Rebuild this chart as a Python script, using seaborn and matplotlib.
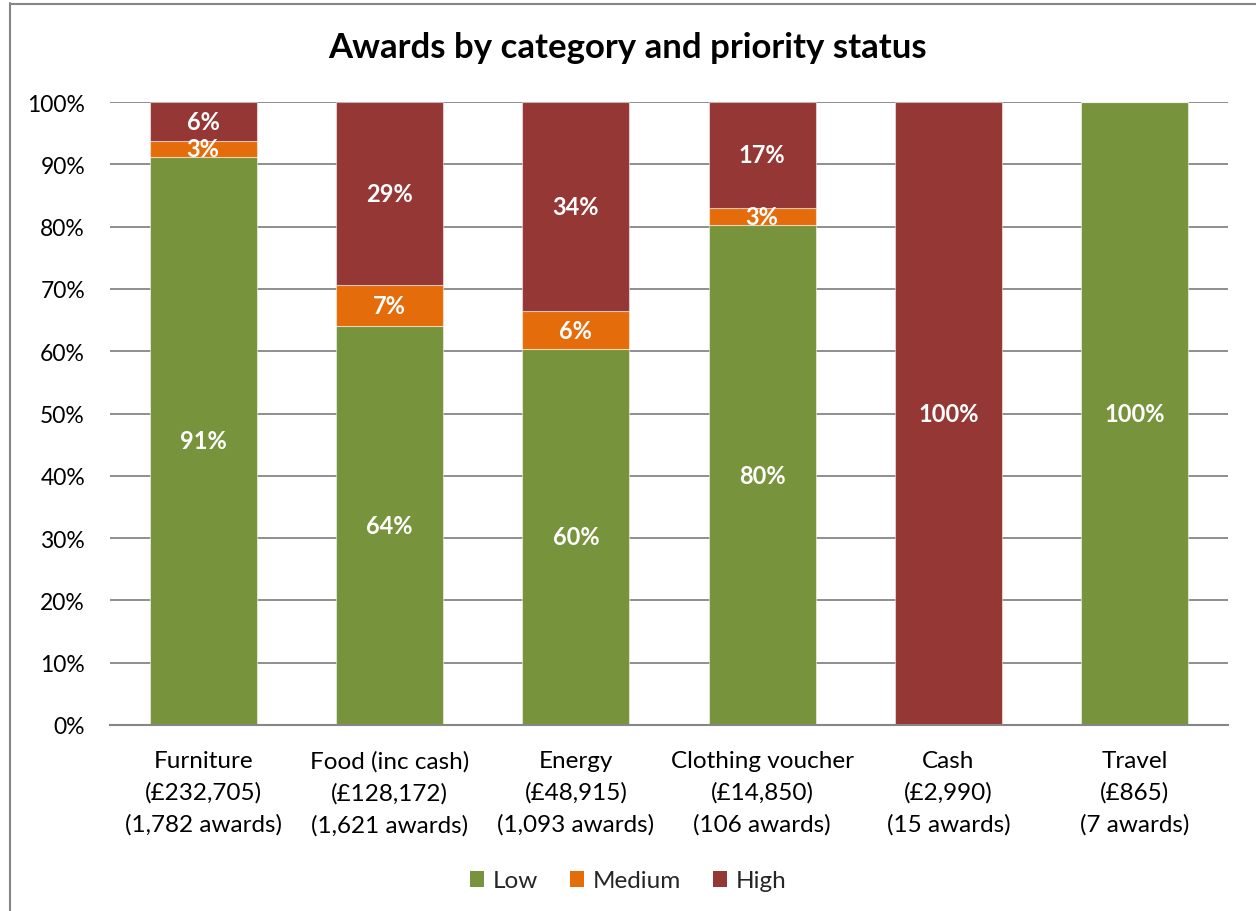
import matplotlib
matplotlib.use("Agg")
import matplotlib.pyplot as plt
import seaborn as sns
import numpy as np
import pandas as pd
from matplotlib.lines import Line2D
from matplotlib.patches import Patch

categories = ["Furniture\n(£232,705)\n(1,782 awards)",
              "Food (inc cash)\n(£128,172)\n(1,621 awards)",
              "Energy\n(£48,915)\n(1,093 awards)",
              "Clothing voucher\n(£14,850)\n(106 awards)",
              "Cash\n(£2,990)\n(15 awards)",
              "Travel\n(£865)\n(7 awards)"]
low = [91.2, 64.0, 60.4, 80.2, 0.0, 100.0]
medium = [2.6, 6.6, 6.0, 2.8, 0.0, 0.0]
high = [6.2, 29.4, 33.6, 17.0, 100.0, 0.0]
series_names = ["Low", "Medium", "High"]
colors = ["#77933C", "#E46C0A", "#953735"]
yticks = [0, 10, 20, 30, 40, 50, 60, 70, 80, 90, 100]

sns.set_theme(style="white")
plt.rcParams['font.family'] = ['Lato', 'DejaVu Sans']

fig = plt.figure(figsize=(12.56, 9.12), dpi=100)
ax = fig.add_axes([110/1256, 1-726/912, (1228-110)/1256, (726-103)/912])

df = pd.DataFrame({"cat": categories, "Low": low, "Medium": medium, "High": high})
bottom = np.zeros(len(categories))
for name, col in zip(series_names, colors):
    vals = df[name].values
    sns.barplot(x=df["cat"], y=vals, bottom=bottom, color=col, width=0.575,
                edgecolor=(1, 1, 1, 0.5), linewidth=0.8, ax=ax, zorder=3,
                saturation=1)
    for i, v in enumerate(vals):
        if v > 0:
            ax.text(i, bottom[i] + v / 2, f"{round(v)}%", ha="center", va="center",
                    color="white", fontsize=17, fontweight="bold", zorder=5)
    bottom = bottom + vals

ax.set_xlim(-0.5, 5.5)
ax.set_ylim(0, 100)
ax.set_yticks(yticks)
ax.set_yticklabels([f"{t}%" for t in yticks], fontsize=16.5, color="black")
ax.tick_params(axis="y", length=0, pad=18)
ax.tick_params(axis="x", length=0, pad=18, labelsize=17.5, labelcolor="black")
for lbl in ax.get_xticklabels():
    lbl.set_linespacing(1.6)
ax.set_xlabel("")
ax.set_ylabel("")
ax.yaxis.grid(True, color="#868686", linewidth=1.3, zorder=0)
ax.set_axisbelow(True)
for s in ["top", "right", "left"]:
    ax.spines[s].set_visible(False)
ax.spines["bottom"].set_color("#868686")
ax.spines["bottom"].set_linewidth(1.5)
ax.spines["bottom"].set_zorder(4)

fig.text(0.5, 1 - 48/912, "Awards by category and priority status", ha="center", va="center",
         fontsize=25, fontweight="bold", color="black")

handles = [Patch(facecolor=c, edgecolor="none", label=n) for n, c in zip(series_names, colors)]
fig.legend(handles=handles, loc="center", bbox_to_anchor=(0.5, 1 - 882/912), ncol=3,
           frameon=False, fontsize=17.5, handlelength=0.6, handleheight=0.6,
           handletextpad=0.35, columnspacing=1.3)

fig.add_artist(Line2D([9.5/1256, 9.5/1256], [0, 1 - 4/912], transform=fig.transFigure,
                      color="#868686", linewidth=1.5))
fig.add_artist(Line2D([9.5/1256, 1], [1 - 4.5/912, 1 - 4.5/912], transform=fig.transFigure,
                      color="#868686", linewidth=1.5))

fig.savefig("out.png", dpi=100, facecolor="white")
